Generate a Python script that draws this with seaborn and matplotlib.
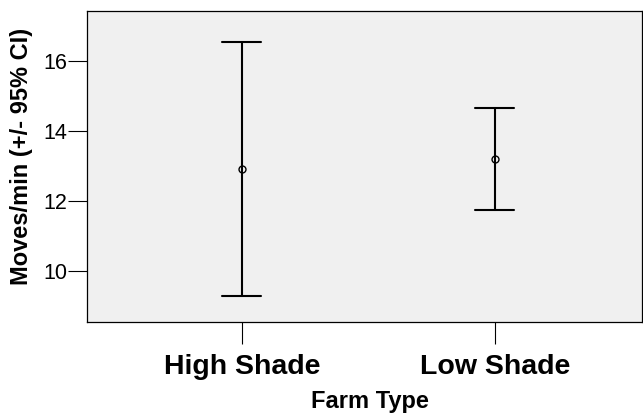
import matplotlib
matplotlib.use("Agg")
import matplotlib.pyplot as plt
import seaborn as sns
import pandas as pd
import numpy as np

# Data
categories = ["High Shade", "Low Shade"]
means = [12.92, 13.21]
ci_low = [9.29, 11.74]
ci_high = [16.55, 14.67]

rows = []
for c, lo, m, hi in zip(categories, ci_low, means, ci_high):
    for v in (lo, m, hi):
        rows.append({"Farm Type": c, "Moves/min": v})
df = pd.DataFrame(rows)

sns.set_style("white")
plt.rcParams["font.family"] = ["Liberation Sans", "DejaVu Sans"]
plt.rcParams["text.color"] = "black"
plt.rcParams["axes.labelcolor"] = "black"
plt.rcParams["xtick.color"] = "black"
plt.rcParams["ytick.color"] = "black"

fig = plt.figure(figsize=(6.43, 4.17), dpi=100)
ax = fig.add_axes([0.1353, 0.2278, 0.8631, 0.7465])
ax.set_facecolor("#f0f0f0")

sns.pointplot(
    data=df, x="Farm Type", y="Moves/min", order=categories,
    estimator="median", errorbar=lambda v: (v.min(), v.max()),
    color="black", capsize=0.154, linestyle="none", marker="o",
    markersize=5, markerfacecolor="none", markeredgecolor="black",
    markeredgewidth=1.0, err_kws={"linewidth": 1.5}, ax=ax,
)

ax.set_xlim(-0.612, 1.581)
ax.set_ylim(8.54, 17.44)
ax.set_yticks([10, 12, 14, 16])
ax.set_yticklabels(["10", "12", "14", "16"], fontsize=15.5)
ax.set_xticks([0, 1])
ax.set_xticklabels(categories, fontsize=20.5, fontweight="bold")
ax.tick_params(axis="y", length=13.5, width=0.8, color="black", labelcolor="black", pad=0.5, left=True)
ax.tick_params(axis="x", length=16, width=0.8, color="black", labelcolor="black", pad=7, bottom=True)
for s in ax.spines.values():
    s.set_visible(True)
    s.set_color("black")
    s.set_linewidth(0.9)

ax.set_ylabel("Moves/min (+/- 95% CI)", fontsize=17, fontweight="bold", color="black")
ax.set_xlabel("Farm Type", fontsize=17, fontweight="bold", color="black")
ax.yaxis.set_label_coords(-0.097, 0.532)
ax.xaxis.set_label_coords(0.51, -0.218)

fig.savefig("out.png", dpi=100)
